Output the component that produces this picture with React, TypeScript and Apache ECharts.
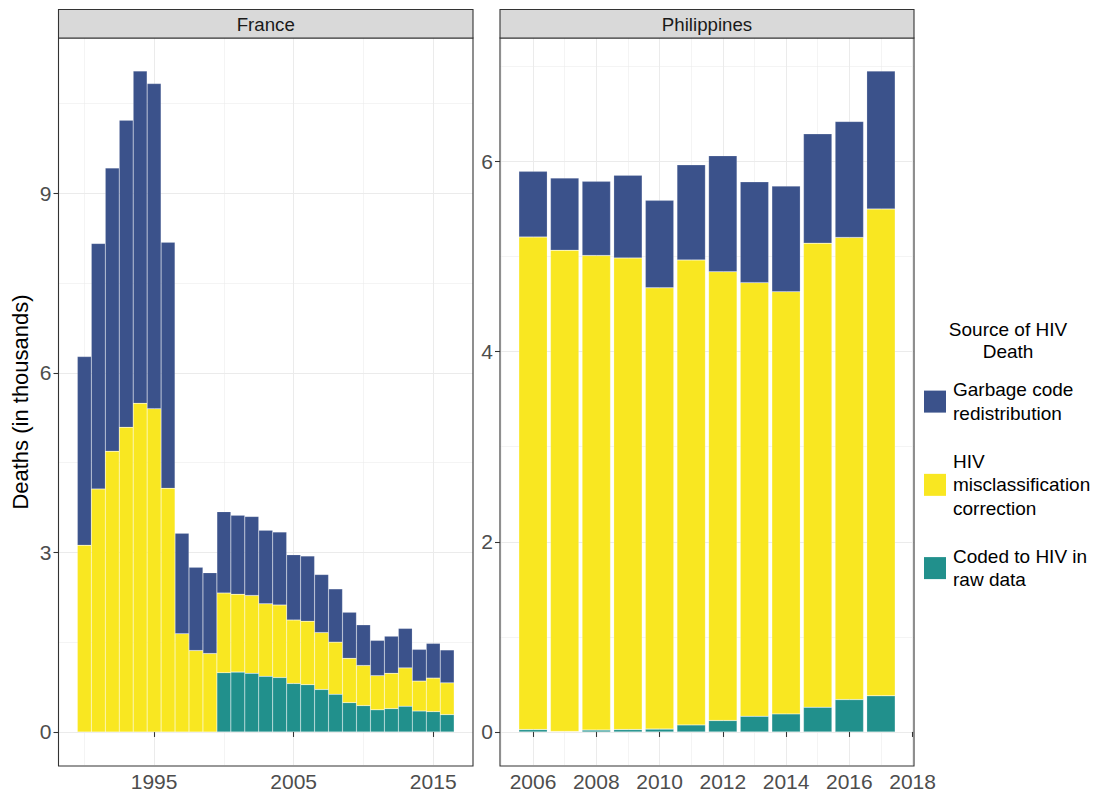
import React, { useEffect, useRef } from "react";
import * as echarts from "echarts";

// ---------------- data ----------------
const FR_YEARS = [1990, 1991, 1992, 1993, 1994, 1995, 1996, 1997, 1998, 1999, 2000, 2001, 2002, 2003, 2004, 2005, 2006, 2007, 2008, 2009, 2010, 2011, 2012, 2013, 2014, 2015, 2016];
const FR_CODED = [0, 0, 0, 0, 0, 0, 0, 0, 0, 0, 0.99, 1.0, 0.98, 0.93, 0.91, 0.81, 0.79, 0.71, 0.63, 0.49, 0.44, 0.37, 0.39, 0.43, 0.35, 0.34, 0.29];
const FR_MISCLASS = [3.12, 4.06, 4.69, 5.09, 5.49, 5.4, 4.07, 1.64, 1.36, 1.31, 1.33, 1.3, 1.3, 1.21, 1.21, 1.06, 1.06, 0.95, 0.87, 0.74, 0.67, 0.57, 0.59, 0.64, 0.5, 0.56, 0.53];
const FR_GARBAGE = [3.15, 4.1, 4.73, 5.13, 5.55, 5.43, 4.11, 1.68, 1.39, 1.35, 1.36, 1.32, 1.32, 1.23, 1.22, 1.09, 1.09, 0.97, 0.89, 0.77, 0.68, 0.59, 0.62, 0.66, 0.53, 0.58, 0.55];

const PH_YEARS = [2006, 2007, 2008, 2009, 2010, 2011, 2012, 2013, 2014, 2015, 2016, 2017];
const PH_CODED = [0.025, 0.005, 0.02, 0.025, 0.03, 0.074, 0.12, 0.165, 0.19, 0.26, 0.34, 0.38];
const PH_MISCLASS = [5.18, 5.06, 4.99, 4.96, 4.64, 4.89, 4.72, 4.56, 4.44, 4.88, 4.86, 5.12];
const PH_GARBAGE = [0.69, 0.76, 0.78, 0.87, 0.92, 1.0, 1.22, 1.06, 1.11, 1.15, 1.22, 1.45];

const FR_X_TICKS = [1995, 2005, 2015];
const FR_Y_TICKS = [0, 3, 6, 9];
const PH_X_TICKS = [2006, 2008, 2010, 2012, 2014, 2016, 2018];
const PH_Y_TICKS = [0, 2, 4, 6];

const PANELS = ["France", "Philippines"];
const SERIES_NAMES = ["Coded to HIV in raw data", "HIV misclassification correction", "Garbage code redistribution"];
const LEGEND_LABELS: Record<string, string> = {
  "Garbage code redistribution": "Garbage code\nredistribution",
  "HIV misclassification correction": "HIV\nmisclassification\ncorrection",
  "Coded to HIV in raw data": "Coded to HIV in\nraw data",
};
const LEGEND_TITLE = "Source of HIV\nDeath";
const Y_TITLE = "Deaths (in thousands)";
const COLORS = ["#21908C", "#F9E721", "#3B528B"];

// ---------------- layout ----------------
const FONT = "'Liberation Sans', Arial, Helvetica, sans-serif";
const FR_GRID = { left: 58.5, top: 38, width: 414.5, height: 728 };
const PH_GRID = { left: 500, top: 38, width: 414, height: 728 };
const STRIP_TOP = 9.5;

function expand(lo: number, hi: number) {
  const d = (hi - lo) * 0.05;
  return [lo - d, hi + d];
}

const App: React.FC = () => {
  const ref = useRef<HTMLDivElement>(null);

  useEffect(() => {
    if (!ref.current) return;
    const chart = echarts.init(ref.current, undefined, { renderer: "svg" });

    const frSets = [FR_CODED, FR_MISCLASS, FR_GARBAGE];
    const phSets = [PH_CODED, PH_MISCLASS, PH_GARBAGE];

    const frTot = FR_YEARS.map((_, i) => frSets.reduce((s, a) => s + a[i], 0));
    const phTot = PH_YEARS.map((_, i) => phSets.reduce((s, a) => s + a[i], 0));
    const frY = expand(0, Math.max(...frTot));
    const phY = expand(0, Math.max(...phTot));

    // x ranges (bar width 1 year for France, 0.9 for Philippines)
    const frX = expand(FR_YEARS[0] - 0.5, FR_YEARS[FR_YEARS.length - 1] + 0.5);
    const phX = expand(PH_YEARS[0] - 0.45, PH_YEARS[PH_YEARS.length - 1] + 0.45);

    // France major ticks every 10 years at 1995/2005/2015: shift so they are nice multiples
    const FR_STEP = 10;
    const shift = (FR_STEP - (FR_X_TICKS[0] % FR_STEP)) % FR_STEP;

    const frBarW = (FR_GRID.width / (frX[1] - frX[0])) * 1.0;
    const phBarW = (PH_GRID.width / (phX[1] - phX[0])) * 0.9;

    const round = (v: number) => Math.round(v * 1000) / 1000;

    const baseAxis = {
      axisLine: { show: false },
      splitLine: { show: true, lineStyle: { color: "#EBEBEB", width: 1.07 } },
      minorTick: { show: false, splitNumber: 2 },
      minorSplitLine: { show: true, lineStyle: { color: "#EBEBEB", width: 0.55 } },
    };
    const tick = (vals: number[]) => ({
      show: true,
      length: 5,
      customValues: vals,
      lineStyle: { color: "#333333", width: 1.07 },
    });
    const labelStyle = { fontSize: 21, color: "#4D4D4D", fontFamily: FONT };

    const xAxes = [
      {
        ...baseAxis,
        type: "value",
        gridIndex: 0,
        min: frX[0] + shift,
        max: frX[1] + shift,
        minInterval: FR_STEP,
        maxInterval: FR_STEP,
        axisTick: tick(FR_X_TICKS.map((v) => v + shift)),
        axisLabel: {
          ...labelStyle,
          margin: 6,
          customValues: FR_X_TICKS.map((v) => v + shift),
          formatter: (v: number) => String(round(v - shift)),
        },
      },
      {
        ...baseAxis,
        type: "value",
        gridIndex: 1,
        min: phX[0],
        max: phX[1],
        minInterval: 2,
        maxInterval: 2,
        axisTick: tick(PH_X_TICKS),
        axisLabel: {
          ...labelStyle,
          margin: 6,
          customValues: PH_X_TICKS,
          formatter: (v: number) => String(round(v)),
        },
      },
    ];

    const yAxes = [
      {
        ...baseAxis,
        type: "value",
        gridIndex: 0,
        min: frY[0],
        max: frY[1],
        minInterval: 3,
        maxInterval: 3,
        axisTick: tick(FR_Y_TICKS),
        axisLabel: {
          ...labelStyle,
          margin: 7,
          customValues: FR_Y_TICKS,
          formatter: (v: number) => String(round(v)),
        },
      },
      {
        ...baseAxis,
        type: "value",
        gridIndex: 1,
        min: phY[0],
        max: phY[1],
        minInterval: 2,
        maxInterval: 2,
        axisTick: tick(PH_Y_TICKS),
        axisLabel: {
          ...labelStyle,
          margin: 7,
          customValues: PH_Y_TICKS,
          formatter: (v: number) => String(round(v)),
        },
      },
    ];

    // data as [value, year] with the value dimension first so stacking applies to y
    const series: any[] = [];
    SERIES_NAMES.forEach((name, k) => {
      series.push({
        type: "bar",
        name,
        xAxisIndex: 0,
        yAxisIndex: 0,
        stack: "fr",
        barWidth: frBarW,
        encode: { x: 1, y: 0 },
        itemStyle: { color: COLORS[k], borderColor: "rgba(255,255,255,0.3)", borderWidth: 0.5 },
        data: FR_YEARS.map((y, i) => [frSets[k][i], y + shift]),
      });
      series.push({
        type: "bar",
        name,
        xAxisIndex: 1,
        yAxisIndex: 1,
        stack: "ph",
        barWidth: phBarW,
        encode: { x: 1, y: 0 },
        itemStyle: { color: COLORS[k], borderColor: "rgba(255,255,255,0.4)", borderWidth: 0.5 },
        data: PH_YEARS.map((y, i) => [phSets[k][i], y]),
      });
    });

    const grids = [FR_GRID, PH_GRID];
    const graphic: any[] = [];
    grids.forEach((g, i) => {
      graphic.push({
        type: "rect",
        z: 100,
        silent: true,
        shape: { x: g.left, y: g.top, width: g.width, height: g.height },
        style: { fill: "none", stroke: "#333333", lineWidth: 1.1 },
      });
      graphic.push({
        type: "rect",
        z: 100,
        silent: true,
        shape: { x: g.left, y: STRIP_TOP, width: g.width, height: g.top - STRIP_TOP },
        style: { fill: "#D9D9D9", stroke: "#333333", lineWidth: 1.1 },
      });
      graphic.push({
        type: "text",
        z: 101,
        silent: true,
        x: g.left + g.width / 2,
        y: (STRIP_TOP + g.top) / 2 + 0.5,
        style: {
          text: PANELS[i],
          fontSize: 18.7,
          fontFamily: FONT,
          fill: "#1A1A1A",
          align: "center",
          verticalAlign: "middle",
        },
      });
    });
    graphic.push({
      type: "text",
      silent: true,
      x: 20.7,
      y: 402,
      rotation: Math.PI / 2,
      style: {
        text: Y_TITLE,
        fontSize: 22,
        fontFamily: FONT,
        fill: "#000000",
        align: "center",
        verticalAlign: "middle",
      },
    });
    graphic.push({
      type: "text",
      silent: true,
      x: 1008,
      y: 317.7,
      style: {
        text: LEGEND_TITLE,
        fontSize: 19,
        lineHeight: 22.7,
        fontFamily: FONT,
        fill: "#000000",
        align: "center",
        verticalAlign: "top",
      },
    });

    chart.setOption({
      animation: false,
      backgroundColor: "#ffffff",
      textStyle: { fontFamily: FONT },
      grid: grids.map((g) => ({ ...g, show: false, containLabel: false })),
      xAxis: xAxes,
      yAxis: yAxes,
      legend: {
        data: [SERIES_NAMES[2], SERIES_NAMES[1], SERIES_NAMES[0]],
        orient: "vertical",
        left: 924,
        top: 378.3,
        padding: 0,
        itemWidth: 22,
        itemHeight: 22,
        itemGap: 25,
        icon: "rect",
        selectedMode: false,
        itemStyle: { borderWidth: 0 },
        formatter: (name: string) => LEGEND_LABELS[name] ?? name,
        textStyle: { fontSize: 19, lineHeight: 23.3, color: "#000000", fontFamily: FONT, padding: [0, 0, 0, 2] },
      },
      graphic,
      series,
    });

    return () => chart.dispose();
  }, []);

  return <div ref={ref} style={{ position: "fixed", left: 0, top: 0, width: 1095, height: 792 }} />;
};

export default App;
